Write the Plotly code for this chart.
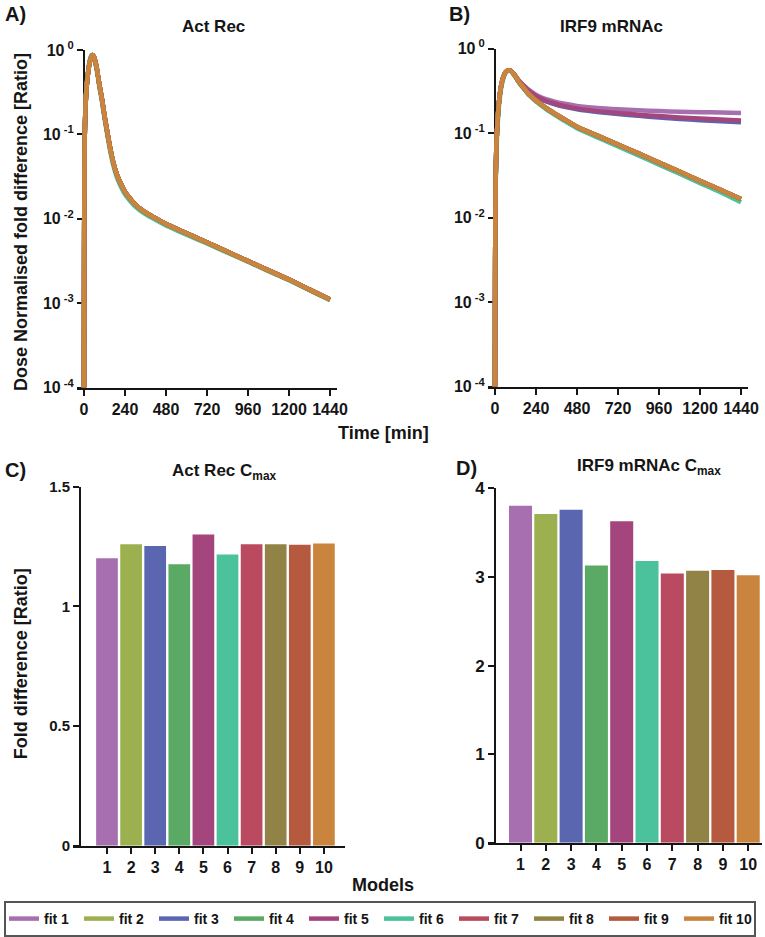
import plotly.graph_objects as go

W, H = 765, 937

FITS = ["fit 1", "fit 2", "fit 3", "fit 4", "fit 5", "fit 6", "fit 7", "fit 8", "fit 9", "fit 10"]
COLORS = ["#a86fb0", "#9db04f", "#5b66b0", "#5aa964", "#a4457e",
          "#4bc19c", "#b94a5f", "#918345", "#b55a3e", "#c9843e"]

# time points [min]
T = [0, 0.5, 1, 2, 4, 8, 15, 25, 35, 45, 52, 60, 75, 90, 105, 120, 135, 150, 170, 190,
     210, 240, 270, 300, 350, 400, 480, 600, 720, 840, 960, 1080, 1200, 1320, 1440]

# Act Rec, dose normalised fold difference
ACT_MAIN = [0.0001, 0.00158, 0.00631, 0.0251, 0.0891, 0.191, 0.355, 0.562, 0.741, 0.851,
            0.871, 0.813, 0.603, 0.389, 0.263, 0.166, 0.110, 0.0741, 0.0479, 0.0347,
            0.0275, 0.0209, 0.0174, 0.0148, 0.0123, 0.0107, 0.00871, 0.00676, 0.00525,
            0.00407, 0.00316, 0.00245, 0.00191, 0.00145, 0.00111]
ACT_FIT6 = [0.0001, 0.00200, 0.00800, 0.0300, 0.100, 0.210, 0.380, 0.600, 0.780, 0.870,
            0.860, 0.780, 0.570, 0.365, 0.245, 0.155, 0.102, 0.0690, 0.0440, 0.0320,
            0.0255, 0.0195, 0.0163, 0.0140, 0.0117, 0.0102, 0.00835, 0.00650, 0.00510,
            0.00397, 0.00310, 0.00240, 0.00187, 0.00143, 0.00109]

# IRF9 mRNAc, dose normalised fold difference
IRF_LOW = [0.0001, 0.001, 0.00316, 0.01, 0.0282, 0.0708, 0.141, 0.251, 0.355, 0.437,
           0.479, 0.519, 0.550, 0.550, 0.513, 0.468, 0.417, 0.380, 0.339, 0.302,
           0.275, 0.243, 0.219, 0.197, 0.170, 0.148, 0.119, 0.0933, 0.0733, 0.0575,
           0.0447, 0.0351, 0.0272, 0.0214, 0.0166]
IRF_FIT6 = [0.0001, 0.0008, 0.0025, 0.008, 0.022, 0.058, 0.120, 0.225, 0.330, 0.415,
            0.460, 0.505, 0.545, 0.545, 0.508, 0.462, 0.410, 0.372, 0.331, 0.295,
            0.268, 0.236, 0.212, 0.191, 0.164, 0.142, 0.114, 0.0890, 0.0697, 0.0545,
            0.0422, 0.0330, 0.0256, 0.0200, 0.0152]
IRF_FIT1 = [0.0001, 0.001, 0.00316, 0.01, 0.0282, 0.0708, 0.141, 0.251, 0.355, 0.437,
            0.479, 0.519, 0.550, 0.550, 0.515, 0.475, 0.430, 0.398, 0.363, 0.335,
            0.312, 0.285, 0.266, 0.252, 0.236, 0.224, 0.210, 0.198, 0.191, 0.186,
            0.182, 0.179, 0.177, 0.175, 0.173]
IRF_FIT2 = [0.0001, 0.001, 0.00316, 0.01, 0.0282, 0.0708, 0.141, 0.251, 0.355, 0.437,
            0.479, 0.519, 0.550, 0.550, 0.514, 0.471, 0.425, 0.391, 0.355, 0.326,
            0.302, 0.274, 0.254, 0.239, 0.222, 0.209, 0.194, 0.180, 0.171, 0.163,
            0.156, 0.150, 0.146, 0.142, 0.138]
IRF_FIT3 = [0.0001, 0.001, 0.00316, 0.01, 0.0282, 0.0708, 0.141, 0.251, 0.355, 0.437,
            0.479, 0.519, 0.550, 0.550, 0.514, 0.470, 0.424, 0.390, 0.354, 0.325,
            0.300, 0.272, 0.252, 0.237, 0.219, 0.206, 0.192, 0.178, 0.168, 0.160,
            0.153, 0.147, 0.142, 0.138, 0.134]
IRF_FIT5 = [0.0001, 0.001, 0.00316, 0.01, 0.0282, 0.0708, 0.141, 0.251, 0.355, 0.437,
            0.479, 0.519, 0.550, 0.550, 0.514, 0.472, 0.426, 0.393, 0.357, 0.328,
            0.304, 0.276, 0.256, 0.241, 0.224, 0.211, 0.196, 0.182, 0.173, 0.165,
            0.159, 0.153, 0.149, 0.145, 0.141]

ACT_SERIES = [ACT_MAIN, ACT_MAIN, ACT_MAIN, ACT_MAIN, ACT_MAIN,
              ACT_FIT6, ACT_MAIN, ACT_MAIN, ACT_MAIN, ACT_MAIN]
IRF_SERIES = [IRF_FIT1, IRF_FIT2, IRF_FIT3, IRF_LOW, IRF_FIT5,
              IRF_FIT6, IRF_LOW, IRF_LOW, IRF_LOW, IRF_LOW]

# Cmax bars
MODELS = [1, 2, 3, 4, 5, 6, 7, 8, 9, 10]
ACT_CMAX = [1.20, 1.259, 1.252, 1.175, 1.300, 1.216, 1.259, 1.259, 1.257, 1.262]
IRF_CMAX = [3.806, 3.712, 3.76, 3.13, 3.63, 3.18, 3.04, 3.07, 3.08, 3.02]

TIME_TICKS = [0, 240, 480, 720, 960, 1200, 1440]
LOG_TICKS = [1e-4, 1e-3, 1e-2, 1e-1, 1]
LOG_TEXT = ["10<sup> -4</sup>", "10<sup> -3</sup>", "10<sup> -2</sup>", "10<sup> -1</sup>", "10<sup> 0</sup>"]


def px(x):
    return x / W


def py(y):
    return 1 - y / H


FONT = "Liberation Sans, Arial, sans-serif"
NARROW = "Liberation Sans Narrow, Liberation Sans, Arial, sans-serif"
INK = "#151515"

fig = go.Figure()

for i, name in enumerate(FITS):
    fig.add_trace(go.Scatter(x=T, y=ACT_SERIES[i], mode="lines", name=name,
                             line=dict(color=COLORS[i], width=4.5, shape="spline", smoothing=0.5),
                             xaxis="x", yaxis="y", legendgroup=name, showlegend=True))
for i, name in enumerate(FITS):
    fig.add_trace(go.Scatter(x=T, y=IRF_SERIES[i], mode="lines", name=name,
                             line=dict(color=COLORS[i], width=4.5, shape="spline", smoothing=0.5),
                             xaxis="x2", yaxis="y2", legendgroup=name, showlegend=False))

fig.add_trace(go.Bar(x=MODELS, y=ACT_CMAX, width=0.9, marker=dict(color=COLORS, line=dict(width=0)),
                     xaxis="x3", yaxis="y3", showlegend=False))
fig.add_trace(go.Bar(x=MODELS, y=IRF_CMAX, width=0.91, marker=dict(color=COLORS, line=dict(width=0)),
                     xaxis="x4", yaxis="y4", showlegend=False))

axis_common = dict(showline=True, linecolor=INK, linewidth=2, ticks="outside",
                   tickcolor=INK, tickwidth=1.6, showgrid=False, zeroline=False,
                   ticklabeloverflow="allow")

time_axis = dict(axis_common, range=[-41, 1481], tickvals=TIME_TICKS, ticklen=6,
                 tickfont=dict(family=FONT, size=16, color=INK, weight="bold"))
log_axis = dict(axis_common, type="log", range=[-4, 0], tickvals=LOG_TICKS, ticktext=LOG_TEXT,
                ticklen=6, anchor="free", layer="below traces",
                tickfont=dict(family=FONT, size=16, color=INK, weight="bold"))
model_axis = dict(axis_common, tickvals=MODELS, ticklen=6,
                  tickfont=dict(family=NARROW, size=16, color=INK, weight="bold"))

fig.update_layout(
    width=W, height=H, margin=dict(l=0, r=0, t=0, b=0),
    paper_bgcolor="white", plot_bgcolor="white", template="none",
    font=dict(family=FONT, color=INK),
    xaxis=dict(time_axis, domain=[px(77), px(337)], anchor="y"),
    yaxis=dict(log_axis, domain=[py(391), py(50.5)], position=px(84)),
    xaxis2=dict(time_axis, domain=[px(488), px(748)], anchor="y2"),
    yaxis2=dict(log_axis, domain=[py(390), py(49)], position=px(495)),
    xaxis3=dict(model_axis, domain=[px(73), px(345)], range=[-0.41, 10.875], anchor="y3"),
    yaxis3=dict(axis_common, domain=[py(853), py(490.7)], range=[0, 1.5], anchor="free",
                position=px(80), tickvals=[0, 0.5, 1, 1.5], ticktext=["0", "0.5", "1", "1.5"], ticklen=6,
                tickfont=dict(family=FONT, size=15, color=INK, weight="bold")),
    xaxis4=dict(model_axis, domain=[px(488), px(762)], range=[-0.285, 10.545], anchor="y4"),
    yaxis4=dict(axis_common, domain=[py(850), py(492.7)], range=[0, 4], anchor="free",
                position=px(495), tickvals=[0, 1, 2, 3, 4], ticklen=6,
                tickfont=dict(family=FONT, size=17, color=INK, weight="bold")),
    legend=dict(orientation="h", x=px(4), y=py(909), xanchor="left", yanchor="top",
                bordercolor="#555555", borderwidth=2, bgcolor="white",
                font=dict(family=NARROW, size=14, color=INK, weight="bold"),
                entrywidth=30, entrywidthmode="pixels", itemwidth=30, tracegroupgap=0),
    bargap=0.1,
)

ann = []


def text(x, y, s, size, angle=0, anchor="center"):
    ann.append(dict(x=px(x), y=py(y), xref="paper", yref="paper", text=s, showarrow=False,
                    xanchor=anchor, yanchor="middle", textangle=angle,
                    font=dict(family=FONT, size=size, color=INK, weight="bold")))


text(3, 14, "A)", 20, anchor="left")
text(447, 14, "B)", 20, anchor="left")
text(3, 474, "C)", 20, anchor="left")
text(454, 472, "D)", 20, anchor="left")
text(213, 27, "Act Rec", 17)
text(611, 27, "IRF9 mRNAc", 17)
text(224, 476, "Act Rec C<sub>max</sub>", 17)
text(649, 471, "IRF9 mRNAc C<sub>max</sub>", 17)
text(383, 437, "Time [min]", 18)
text(383, 893, "Models", 18)
text(21, 224, "Dose Normalised fold difference [Ratio]", 18, angle=-90)
text(21, 670, "Fold difference [Ratio]", 18, angle=-90)

fig.update_layout(annotations=ann)
fig.write_html("out.html", config={"displayModeBar": False},
               post_script="document.body.style.margin='0';document.body.style.overflow='hidden';")
